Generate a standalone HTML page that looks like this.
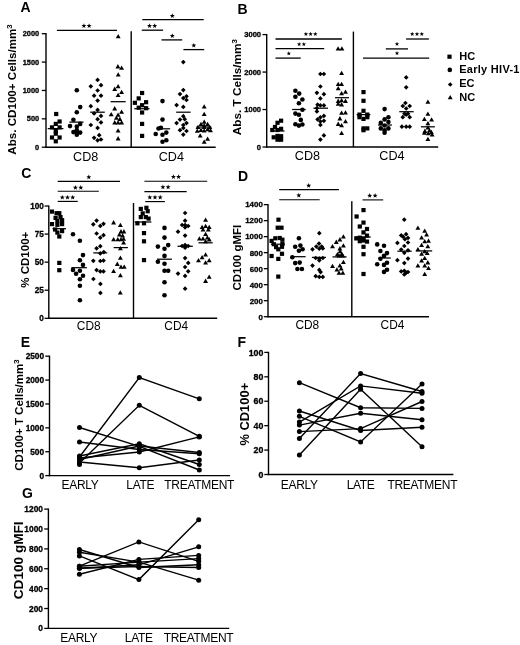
<!DOCTYPE html>
<html><head><meta charset="utf-8"><style>
html,body{margin:0;padding:0;background:#fff;}
body{width:520px;height:645px;overflow:hidden;}
svg{display:block;will-change:transform;filter:blur(0.25px);}
</style></head><body>
<svg width="520" height="645" viewBox="0 0 520 645" font-family='"Liberation Sans", sans-serif'>
<rect width="520" height="645" fill="#fff"/>
<text x="20.6" y="12.4" font-size="14" font-weight="bold" text-anchor="start" >A</text>
<line x1="46.00" y1="33.10" x2="46.00" y2="147.80" stroke="#000" stroke-width="1.4"/>
<line x1="41.80" y1="33.70" x2="46.00" y2="33.70" stroke="#000" stroke-width="1.3"/>
<text x="39.2" y="36.36" font-size="7.4" font-weight="bold" text-anchor="end" letter-spacing="0" stroke="#000" stroke-width="0.3">2000</text>
<line x1="41.80" y1="62.07" x2="46.00" y2="62.07" stroke="#000" stroke-width="1.3"/>
<text x="39.2" y="64.74" font-size="7.4" font-weight="bold" text-anchor="end" letter-spacing="0" stroke="#000" stroke-width="0.3">1500</text>
<line x1="41.80" y1="90.45" x2="46.00" y2="90.45" stroke="#000" stroke-width="1.3"/>
<text x="39.2" y="93.11" font-size="7.4" font-weight="bold" text-anchor="end" letter-spacing="0" stroke="#000" stroke-width="0.3">1000</text>
<line x1="41.80" y1="118.82" x2="46.00" y2="118.82" stroke="#000" stroke-width="1.3"/>
<text x="39.2" y="121.49" font-size="7.4" font-weight="bold" text-anchor="end" letter-spacing="0" stroke="#000" stroke-width="0.3">500</text>
<line x1="41.80" y1="147.20" x2="46.00" y2="147.20" stroke="#000" stroke-width="1.3"/>
<text x="39.2" y="149.86" font-size="7.4" font-weight="bold" text-anchor="end" letter-spacing="0" stroke="#000" stroke-width="0.3">0</text>
<line x1="45.30" y1="147.20" x2="215.70" y2="147.20" stroke="#000" stroke-width="1.4"/>
<line x1="131.20" y1="31.30" x2="131.20" y2="147.20" stroke="#000" stroke-width="1.4"/>
<text transform="translate(16.0,89.5) rotate(-90)" font-size="11.6" font-weight="bold" text-anchor="middle">Abs. CD100+ Cells/mm<tspan font-size="7.8" dy="-4.3">3</tspan></text>
<text x="85.7" y="160.7" font-size="12.6" font-weight="normal" text-anchor="middle" >CD8</text>
<text x="171.3" y="160.7" font-size="12.6" font-weight="normal" text-anchor="middle" >CD4</text>
<rect x="54.10" y="111.90" width="4.2" height="4.2"/>
<rect x="57.50" y="119.40" width="4.2" height="4.2"/>
<rect x="53.70" y="121.80" width="4.2" height="4.2"/>
<rect x="49.90" y="125.30" width="4.2" height="4.2"/>
<rect x="57.50" y="125.30" width="4.2" height="4.2"/>
<rect x="53.70" y="128.90" width="4.2" height="4.2"/>
<rect x="53.70" y="131.60" width="4.2" height="4.2"/>
<rect x="49.90" y="135.40" width="4.2" height="4.2"/>
<rect x="57.50" y="135.40" width="4.2" height="4.2"/>
<rect x="53.70" y="139.20" width="4.2" height="4.2"/>
<line x1="47.70" y1="128.60" x2="63.40" y2="128.60" stroke="#000" stroke-width="1.25"/>
<circle cx="76.80" cy="90.30" r="2.3"/>
<circle cx="80.20" cy="107.10" r="2.3"/>
<circle cx="76.80" cy="112.20" r="2.3"/>
<circle cx="73.40" cy="119.80" r="2.3"/>
<circle cx="70.00" cy="126.10" r="2.3"/>
<circle cx="76.80" cy="126.60" r="2.3"/>
<circle cx="80.20" cy="123.90" r="2.3"/>
<circle cx="73.40" cy="132.10" r="2.3"/>
<circle cx="80.20" cy="132.60" r="2.3"/>
<circle cx="76.80" cy="134.80" r="2.3"/>
<circle cx="76.80" cy="130.00" r="2.3"/>
<circle cx="76.80" cy="132.40" r="2.3"/>
<line x1="69.40" y1="122.10" x2="83.50" y2="122.10" stroke="#000" stroke-width="1.25"/>
<path d="M97.60 77.55L99.95 79.90L97.60 82.25L95.25 79.90Z"/>
<path d="M90.80 83.95L93.15 86.30L90.80 88.65L88.45 86.30Z"/>
<path d="M101.00 82.85L103.35 85.20L101.00 87.55L98.65 85.20Z"/>
<path d="M97.60 88.15L99.95 90.50L97.60 92.85L95.25 90.50Z"/>
<path d="M94.10 93.35L96.45 95.70L94.10 98.05L91.75 95.70Z"/>
<path d="M101.00 93.35L103.35 95.70L101.00 98.05L98.65 95.70Z"/>
<path d="M97.60 98.25L99.95 100.60L97.60 102.95L95.25 100.60Z"/>
<path d="M90.80 103.85L93.15 106.20L90.80 108.55L88.45 106.20Z"/>
<path d="M97.60 107.55L99.95 109.90L97.60 112.25L95.25 109.90Z"/>
<path d="M94.10 111.05L96.45 113.40L94.10 115.75L91.75 113.40Z"/>
<path d="M101.00 113.55L103.35 115.90L101.00 118.25L98.65 115.90Z"/>
<path d="M97.60 116.85L99.95 119.20L97.60 121.55L95.25 119.20Z"/>
<path d="M101.00 120.05L103.35 122.40L101.00 124.75L98.65 122.40Z"/>
<path d="M90.80 122.65L93.15 125.00L90.80 127.35L88.45 125.00Z"/>
<path d="M97.60 125.55L99.95 127.90L97.60 130.25L95.25 127.90Z"/>
<path d="M99.20 132.85L101.55 135.20L99.20 137.55L96.85 135.20Z"/>
<path d="M94.10 135.45L96.45 137.80L94.10 140.15L91.75 137.80Z"/>
<path d="M97.60 137.95L99.95 140.30L97.60 142.65L95.25 140.30Z"/>
<path d="M101.00 137.15L103.35 139.50L101.00 141.85L98.65 139.50Z"/>
<line x1="90.20" y1="112.20" x2="104.80" y2="112.20" stroke="#000" stroke-width="1.25"/>
<path d="M118.20 34.02L120.65 38.32L115.75 38.32Z"/>
<path d="M117.90 64.12L120.35 68.42L115.45 68.42Z"/>
<path d="M121.60 65.42L124.05 69.72L119.15 69.72Z"/>
<path d="M118.20 72.32L120.65 76.62L115.75 76.62Z"/>
<path d="M118.10 84.02L120.55 88.32L115.65 88.32Z"/>
<path d="M114.70 86.62L117.15 90.92L112.25 90.92Z"/>
<path d="M121.60 89.82L124.05 94.12L119.15 94.12Z"/>
<path d="M118.10 92.72L120.55 97.02L115.65 97.02Z"/>
<path d="M114.70 106.12L117.15 110.42L112.25 110.42Z"/>
<path d="M111.20 111.92L113.65 116.22L108.75 116.22Z"/>
<path d="M121.60 109.42L124.05 113.72L119.15 113.72Z"/>
<path d="M118.10 112.52L120.55 116.82L115.65 116.82Z"/>
<path d="M116.40 115.42L118.85 119.72L113.95 119.72Z"/>
<path d="M119.90 116.62L122.35 120.92L117.45 120.92Z"/>
<path d="M114.70 120.12L117.15 124.42L112.25 124.42Z"/>
<path d="M118.10 120.12L120.55 124.42L115.65 124.42Z"/>
<path d="M121.60 120.12L124.05 124.42L119.15 124.42Z"/>
<path d="M118.10 128.22L120.55 132.52L115.65 132.52Z"/>
<path d="M118.10 136.12L120.55 140.42L115.65 140.42Z"/>
<line x1="110.60" y1="101.70" x2="125.70" y2="101.70" stroke="#000" stroke-width="1.25"/>
<rect x="140.00" y="90.90" width="4.2" height="4.2"/>
<rect x="136.60" y="96.30" width="4.2" height="4.2"/>
<rect x="132.80" y="100.70" width="4.2" height="4.2"/>
<rect x="144.00" y="100.10" width="4.2" height="4.2"/>
<rect x="140.00" y="103.10" width="4.2" height="4.2"/>
<rect x="136.60" y="105.60" width="4.2" height="4.2"/>
<rect x="144.00" y="106.10" width="4.2" height="4.2"/>
<rect x="140.00" y="110.40" width="4.2" height="4.2"/>
<rect x="140.00" y="121.80" width="4.2" height="4.2"/>
<rect x="140.00" y="133.80" width="4.2" height="4.2"/>
<line x1="134.30" y1="108.70" x2="149.50" y2="108.70" stroke="#000" stroke-width="1.25"/>
<circle cx="162.50" cy="101.10" r="2.3"/>
<circle cx="162.50" cy="119.60" r="2.3"/>
<circle cx="160.90" cy="127.70" r="2.3"/>
<circle cx="155.70" cy="134.00" r="2.3"/>
<circle cx="162.50" cy="134.80" r="2.3"/>
<circle cx="166.30" cy="132.60" r="2.3"/>
<circle cx="162.50" cy="141.80" r="2.3"/>
<circle cx="166.30" cy="140.20" r="2.3"/>
<circle cx="158.50" cy="128.50" r="2.3"/>
<line x1="157.10" y1="128.80" x2="170.10" y2="128.80" stroke="#000" stroke-width="1.25"/>
<path d="M183.30 59.75L185.65 62.10L183.30 64.45L180.95 62.10Z"/>
<path d="M183.30 87.75L185.65 90.10L183.30 92.45L180.95 90.10Z"/>
<path d="M180.00 91.75L182.35 94.10L180.00 96.45L177.65 94.10Z"/>
<path d="M186.50 93.95L188.85 96.30L186.50 98.65L184.15 96.30Z"/>
<path d="M183.30 95.75L185.65 98.10L183.30 100.45L180.95 98.10Z"/>
<path d="M186.50 97.65L188.85 100.00L186.50 102.35L184.15 100.00Z"/>
<path d="M176.60 102.75L178.95 105.10L176.60 107.45L174.25 105.10Z"/>
<path d="M183.30 104.55L185.65 106.90L183.30 109.25L180.95 106.90Z"/>
<path d="M183.30 113.85L185.65 116.20L183.30 118.55L180.95 116.20Z"/>
<path d="M180.00 117.25L182.35 119.60L180.00 121.95L177.65 119.60Z"/>
<path d="M184.70 116.85L187.05 119.20L184.70 121.55L182.35 119.20Z"/>
<path d="M176.60 120.75L178.95 123.10L176.60 125.45L174.25 123.10Z"/>
<path d="M186.50 120.75L188.85 123.10L186.50 125.45L184.15 123.10Z"/>
<path d="M183.30 122.65L185.65 125.00L183.30 127.35L180.95 125.00Z"/>
<path d="M180.00 127.85L182.35 130.20L180.00 132.55L177.65 130.20Z"/>
<path d="M186.50 128.65L188.85 131.00L186.50 133.35L184.15 131.00Z"/>
<path d="M183.30 125.65L185.65 128.00L183.30 130.35L180.95 128.00Z"/>
<path d="M183.30 132.25L185.65 134.60L183.30 136.95L180.95 134.60Z"/>
<line x1="176.20" y1="112.20" x2="190.60" y2="112.20" stroke="#000" stroke-width="1.25"/>
<path d="M204.20 104.32L206.65 108.62L201.75 108.62Z"/>
<path d="M204.20 111.72L206.65 116.02L201.75 116.02Z"/>
<path d="M204.20 119.52L206.65 123.82L201.75 123.82Z"/>
<path d="M201.00 121.72L203.45 126.02L198.55 126.02Z"/>
<path d="M207.60 121.72L210.05 126.02L205.15 126.02Z"/>
<path d="M198.00 124.72L200.45 129.02L195.55 129.02Z"/>
<path d="M204.20 124.72L206.65 129.02L201.75 129.02Z"/>
<path d="M209.80 124.72L212.25 129.02L207.35 129.02Z"/>
<path d="M201.00 127.62L203.45 131.92L198.55 131.92Z"/>
<path d="M207.60 126.92L210.05 131.22L205.15 131.22Z"/>
<path d="M197.30 128.42L199.75 132.72L194.85 132.72Z"/>
<path d="M204.20 122.92L206.65 127.22L201.75 127.22Z"/>
<path d="M204.20 128.22L206.65 132.52L201.75 132.52Z"/>
<path d="M210.50 127.92L212.95 132.22L208.05 132.22Z"/>
<path d="M200.20 133.22L202.65 137.52L197.75 137.52Z"/>
<path d="M207.60 136.52L210.05 140.82L205.15 140.82Z"/>
<path d="M204.20 139.42L206.65 143.72L201.75 143.72Z"/>
<line x1="196.50" y1="127.00" x2="211.30" y2="127.00" stroke="#000" stroke-width="1.25"/>
<line x1="56.90" y1="30.40" x2="117.00" y2="30.40" stroke="#000" stroke-width="1.3"/>
<polygon points="83.90,23.30 84.54,25.02 86.37,25.10 84.94,26.24 85.43,28.00 83.90,26.99 82.37,28.00 82.86,26.24 81.43,25.10 83.26,25.02"/>
<polygon points="89.10,23.30 89.74,25.02 91.57,25.10 90.14,26.24 90.63,28.00 89.10,26.99 87.57,28.00 88.06,26.24 86.63,25.10 88.46,25.02"/>
<line x1="142.30" y1="19.60" x2="203.70" y2="19.60" stroke="#000" stroke-width="1.3"/>
<polygon points="172.30,13.20 172.94,14.92 174.77,15.00 173.34,16.14 173.83,17.90 172.30,16.89 170.77,17.90 171.26,16.14 169.83,15.00 171.66,14.92"/>
<line x1="141.80" y1="30.20" x2="163.10" y2="30.20" stroke="#000" stroke-width="1.3"/>
<polygon points="149.50,23.20 150.14,24.92 151.97,25.00 150.54,26.14 151.03,27.90 149.50,26.89 147.97,27.90 148.46,26.14 147.03,25.00 148.86,24.92"/>
<polygon points="154.70,23.20 155.34,24.92 157.17,25.00 155.74,26.14 156.23,27.90 154.70,26.89 153.17,27.90 153.66,26.14 152.23,25.00 154.06,24.92"/>
<line x1="161.50" y1="39.90" x2="182.20" y2="39.90" stroke="#000" stroke-width="1.3"/>
<polygon points="172.30,33.20 172.94,34.92 174.77,35.00 173.34,36.14 173.83,37.90 172.30,36.89 170.77,37.90 171.26,36.14 169.83,35.00 171.66,34.92"/>
<line x1="183.40" y1="49.60" x2="204.20" y2="49.60" stroke="#000" stroke-width="1.3"/>
<polygon points="193.80,42.90 194.44,44.62 196.27,44.70 194.84,45.84 195.33,47.60 193.80,46.59 192.27,47.60 192.76,45.84 191.33,44.70 193.16,44.62"/>
<text x="237.6" y="14.4" font-size="14" font-weight="bold" text-anchor="start" >B</text>
<line x1="266.70" y1="33.99" x2="266.70" y2="147.60" stroke="#000" stroke-width="1.4"/>
<line x1="262.50" y1="34.59" x2="266.70" y2="34.59" stroke="#000" stroke-width="1.3"/>
<text x="261.1" y="37.33" font-size="7.6" font-weight="bold" text-anchor="end" letter-spacing="0" stroke="#000" stroke-width="0.3">3000</text>
<line x1="262.50" y1="72.06" x2="266.70" y2="72.06" stroke="#000" stroke-width="1.3"/>
<text x="261.1" y="74.80" font-size="7.6" font-weight="bold" text-anchor="end" letter-spacing="0" stroke="#000" stroke-width="0.3">2000</text>
<line x1="262.50" y1="109.53" x2="266.70" y2="109.53" stroke="#000" stroke-width="1.3"/>
<text x="261.1" y="112.27" font-size="7.6" font-weight="bold" text-anchor="end" letter-spacing="0" stroke="#000" stroke-width="0.3">1000</text>
<line x1="262.50" y1="147.00" x2="266.70" y2="147.00" stroke="#000" stroke-width="1.3"/>
<text x="261.1" y="149.74" font-size="7.6" font-weight="bold" text-anchor="end" letter-spacing="0" stroke="#000" stroke-width="0.3">0</text>
<line x1="266.00" y1="147.00" x2="438.20" y2="147.00" stroke="#000" stroke-width="1.4"/>
<line x1="353.40" y1="31.60" x2="353.40" y2="147.00" stroke="#000" stroke-width="1.4"/>
<text transform="translate(241.0,87.2) rotate(-90)" font-size="11.8" font-weight="bold" text-anchor="middle">Abs. T Cells/mm<tspan font-size="7.9" dy="-4.3">3</tspan></text>
<text x="307.4" y="160.4" font-size="12.6" font-weight="normal" text-anchor="middle" >CD8</text>
<text x="391.9" y="160.4" font-size="12.6" font-weight="normal" text-anchor="middle" >CD4</text>
<rect x="279.00" y="118.60" width="4.2" height="4.2"/>
<rect x="275.40" y="120.70" width="4.2" height="4.2"/>
<rect x="272.90" y="124.90" width="4.2" height="4.2"/>
<rect x="279.00" y="126.70" width="4.2" height="4.2"/>
<rect x="270.20" y="127.90" width="4.2" height="4.2"/>
<rect x="275.40" y="127.90" width="4.2" height="4.2"/>
<rect x="271.60" y="135.20" width="4.2" height="4.2"/>
<rect x="275.40" y="133.80" width="4.2" height="4.2"/>
<rect x="279.00" y="134.10" width="4.2" height="4.2"/>
<rect x="275.40" y="137.60" width="4.2" height="4.2"/>
<rect x="279.00" y="137.60" width="4.2" height="4.2"/>
<line x1="271.00" y1="131.00" x2="284.50" y2="131.00" stroke="#000" stroke-width="1.25"/>
<circle cx="295.40" cy="90.80" r="2.3"/>
<circle cx="299.20" cy="93.60" r="2.3"/>
<circle cx="295.40" cy="96.80" r="2.3"/>
<circle cx="302.40" cy="99.50" r="2.3"/>
<circle cx="298.90" cy="103.30" r="2.3"/>
<circle cx="302.40" cy="109.80" r="2.3"/>
<circle cx="295.40" cy="113.60" r="2.3"/>
<circle cx="298.90" cy="114.70" r="2.3"/>
<circle cx="300.80" cy="119.90" r="2.3"/>
<circle cx="295.40" cy="124.30" r="2.3"/>
<circle cx="298.90" cy="125.60" r="2.3"/>
<circle cx="302.40" cy="124.50" r="2.3"/>
<line x1="292.10" y1="109.50" x2="305.70" y2="109.50" stroke="#000" stroke-width="1.25"/>
<path d="M320.40 71.65L322.75 74.00L320.40 76.35L318.05 74.00Z"/>
<path d="M323.90 71.65L326.25 74.00L323.90 76.35L321.55 74.00Z"/>
<path d="M320.40 84.15L322.75 86.50L320.40 88.85L318.05 86.50Z"/>
<path d="M316.90 90.45L319.25 92.80L316.90 95.15L314.55 92.80Z"/>
<path d="M323.90 91.85L326.25 94.20L323.90 96.55L321.55 94.20Z"/>
<path d="M320.40 96.05L322.75 98.40L320.40 100.75L318.05 98.40Z"/>
<path d="M317.60 102.35L319.95 104.70L317.60 107.05L315.25 104.70Z"/>
<path d="M320.40 103.05L322.75 105.40L320.40 107.75L318.05 105.40Z"/>
<path d="M323.90 103.05L326.25 105.40L323.90 107.75L321.55 105.40Z"/>
<path d="M316.90 105.85L319.25 108.20L316.90 110.55L314.55 108.20Z"/>
<path d="M316.90 109.05L319.25 111.40L316.90 113.75L314.55 111.40Z"/>
<path d="M323.90 113.55L326.25 115.90L323.90 118.25L321.55 115.90Z"/>
<path d="M320.40 114.95L322.75 117.30L320.40 119.65L318.05 117.30Z"/>
<path d="M317.60 117.05L319.95 119.40L317.60 121.75L315.25 119.40Z"/>
<path d="M320.40 119.15L322.75 121.50L320.40 123.85L318.05 121.50Z"/>
<path d="M323.90 118.45L326.25 120.80L323.90 123.15L321.55 120.80Z"/>
<path d="M320.40 122.55L322.75 124.90L320.40 127.25L318.05 124.90Z"/>
<path d="M323.90 133.05L326.25 135.40L323.90 137.75L321.55 135.40Z"/>
<path d="M320.40 137.25L322.75 139.60L320.40 141.95L318.05 139.60Z"/>
<line x1="313.40" y1="108.20" x2="328.00" y2="108.20" stroke="#000" stroke-width="1.25"/>
<path d="M338.10 46.22L340.55 50.52L335.65 50.52Z"/>
<path d="M341.90 46.22L344.35 50.52L339.45 50.52Z"/>
<path d="M341.60 70.72L344.05 75.02L339.15 75.02Z"/>
<path d="M338.20 81.82L340.65 86.12L335.75 86.12Z"/>
<path d="M341.60 81.82L344.05 86.12L339.15 86.12Z"/>
<path d="M338.20 86.02L340.65 90.32L335.75 90.32Z"/>
<path d="M341.60 90.92L344.05 95.22L339.15 95.22Z"/>
<path d="M345.50 89.52L347.95 93.82L343.05 93.82Z"/>
<path d="M338.20 98.62L340.65 102.92L335.75 102.92Z"/>
<path d="M341.60 97.92L344.05 102.22L339.15 102.22Z"/>
<path d="M345.50 98.62L347.95 102.92L343.05 102.92Z"/>
<path d="M338.20 101.42L340.65 105.72L335.75 105.72Z"/>
<path d="M341.60 102.12L344.05 106.42L339.15 106.42Z"/>
<path d="M341.60 110.52L344.05 114.82L339.15 114.82Z"/>
<path d="M345.50 110.22L347.95 114.52L343.05 114.52Z"/>
<path d="M339.90 116.12L342.35 120.42L337.45 120.42Z"/>
<path d="M345.50 118.92L347.95 123.22L343.05 123.22Z"/>
<path d="M338.20 121.62L340.65 125.92L335.75 125.92Z"/>
<path d="M341.60 123.02L344.05 127.32L339.15 127.32Z"/>
<path d="M341.60 130.72L344.05 135.02L339.15 135.02Z"/>
<line x1="335.00" y1="97.70" x2="349.00" y2="97.70" stroke="#000" stroke-width="1.25"/>
<rect x="361.40" y="90.00" width="4.2" height="4.2"/>
<rect x="361.40" y="98.70" width="4.2" height="4.2"/>
<rect x="361.40" y="108.70" width="4.2" height="4.2"/>
<rect x="357.40" y="112.50" width="4.2" height="4.2"/>
<rect x="365.20" y="112.50" width="4.2" height="4.2"/>
<rect x="357.40" y="115.10" width="4.2" height="4.2"/>
<rect x="361.40" y="116.80" width="4.2" height="4.2"/>
<rect x="365.20" y="115.10" width="4.2" height="4.2"/>
<rect x="361.40" y="126.30" width="4.2" height="4.2"/>
<rect x="365.20" y="126.30" width="4.2" height="4.2"/>
<rect x="361.40" y="128.10" width="4.2" height="4.2"/>
<line x1="356.60" y1="114.60" x2="370.40" y2="114.60" stroke="#000" stroke-width="1.25"/>
<circle cx="384.60" cy="109.10" r="2.3"/>
<circle cx="388.40" cy="117.20" r="2.3"/>
<circle cx="384.60" cy="119.40" r="2.3"/>
<circle cx="380.80" cy="122.90" r="2.3"/>
<circle cx="380.80" cy="128.40" r="2.3"/>
<circle cx="384.60" cy="130.20" r="2.3"/>
<circle cx="388.40" cy="128.40" r="2.3"/>
<circle cx="384.60" cy="132.80" r="2.3"/>
<circle cx="388.40" cy="122.00" r="2.3"/>
<circle cx="384.60" cy="125.50" r="2.3"/>
<line x1="378.00" y1="125.00" x2="391.90" y2="125.00" stroke="#000" stroke-width="1.25"/>
<path d="M406.20 75.05L408.55 77.40L406.20 79.75L403.85 77.40Z"/>
<path d="M406.20 84.95L408.55 87.30L406.20 89.65L403.85 87.30Z"/>
<path d="M405.40 100.65L407.75 103.00L405.40 105.35L403.05 103.00Z"/>
<path d="M402.80 103.65L405.15 106.00L402.80 108.35L400.45 106.00Z"/>
<path d="M409.70 103.65L412.05 106.00L409.70 108.35L407.35 106.00Z"/>
<path d="M406.20 106.15L408.55 108.50L406.20 110.85L403.85 108.50Z"/>
<path d="M404.50 111.35L406.85 113.70L404.50 116.05L402.15 113.70Z"/>
<path d="M408.00 111.35L410.35 113.70L408.00 116.05L405.65 113.70Z"/>
<path d="M402.80 114.85L405.15 117.20L402.80 119.55L400.45 117.20Z"/>
<path d="M409.70 114.85L412.05 117.20L409.70 119.55L407.35 117.20Z"/>
<path d="M406.20 112.25L408.55 114.60L406.20 116.95L403.85 114.60Z"/>
<path d="M401.90 124.35L404.25 126.70L401.90 129.05L399.55 126.70Z"/>
<path d="M406.20 124.35L408.55 126.70L406.20 129.05L403.85 126.70Z"/>
<path d="M409.70 124.35L412.05 126.70L409.70 129.05L407.35 126.70Z"/>
<line x1="399.30" y1="111.70" x2="413.70" y2="111.70" stroke="#000" stroke-width="1.25"/>
<path d="M427.90 99.42L430.35 103.72L425.45 103.72Z"/>
<path d="M427.90 111.42L430.35 115.72L425.45 115.72Z"/>
<path d="M424.40 116.82L426.85 121.12L421.95 121.12Z"/>
<path d="M431.60 117.22L434.05 121.52L429.15 121.52Z"/>
<path d="M427.90 121.02L430.35 125.32L425.45 125.32Z"/>
<path d="M427.90 125.22L430.35 129.52L425.45 129.52Z"/>
<path d="M424.90 128.62L427.35 132.92L422.45 132.92Z"/>
<path d="M429.50 127.92L431.95 132.22L427.05 132.22Z"/>
<path d="M424.40 130.42L426.85 134.72L421.95 134.72Z"/>
<path d="M428.30 130.92L430.75 135.22L425.85 135.22Z"/>
<path d="M431.40 129.72L433.85 134.02L428.95 134.02Z"/>
<path d="M432.10 132.22L434.55 136.52L429.65 136.52Z"/>
<path d="M427.90 136.82L430.35 141.12L425.45 141.12Z"/>
<line x1="420.90" y1="126.80" x2="434.90" y2="126.80" stroke="#000" stroke-width="1.25"/>
<line x1="275.50" y1="39.00" x2="341.90" y2="39.00" stroke="#000" stroke-width="1.3"/>
<polygon points="305.90,31.80 306.47,33.32 308.09,33.39 306.82,34.40 307.25,35.96 305.90,35.07 304.55,35.96 304.98,34.40 303.71,33.39 305.33,33.32"/>
<polygon points="310.60,31.80 311.17,33.32 312.79,33.39 311.52,34.40 311.95,35.96 310.60,35.07 309.25,35.96 309.68,34.40 308.41,33.39 310.03,33.32"/>
<polygon points="315.30,31.80 315.87,33.32 317.49,33.39 316.22,34.40 316.65,35.96 315.30,35.07 313.95,35.96 314.38,34.40 313.11,33.39 314.73,33.32"/>
<line x1="275.50" y1="48.60" x2="324.20" y2="48.60" stroke="#000" stroke-width="1.3"/>
<polygon points="299.15,41.90 299.72,43.42 301.34,43.49 300.07,44.50 300.50,46.06 299.15,45.17 297.80,46.06 298.23,44.50 296.96,43.49 298.58,43.42"/>
<polygon points="303.85,41.90 304.42,43.42 306.04,43.49 304.77,44.50 305.20,46.06 303.85,45.17 302.50,46.06 302.93,44.50 301.66,43.49 303.28,43.42"/>
<line x1="275.50" y1="58.10" x2="300.70" y2="58.10" stroke="#000" stroke-width="1.3"/>
<polygon points="288.80,51.20 289.37,52.72 290.99,52.79 289.72,53.80 290.15,55.36 288.80,54.47 287.45,55.36 287.88,53.80 286.61,52.79 288.23,52.72"/>
<line x1="406.10" y1="39.00" x2="428.90" y2="39.00" stroke="#000" stroke-width="1.3"/>
<polygon points="412.20,31.80 412.77,33.32 414.39,33.39 413.12,34.40 413.55,35.96 412.20,35.07 410.85,35.96 411.28,34.40 410.01,33.39 411.63,33.32"/>
<polygon points="417.00,31.80 417.57,33.32 419.19,33.39 417.92,34.40 418.35,35.96 417.00,35.07 415.65,35.96 416.08,34.40 414.81,33.39 416.43,33.32"/>
<polygon points="421.80,31.80 422.37,33.32 423.99,33.39 422.72,34.40 423.15,35.96 421.80,35.07 420.45,35.96 420.88,34.40 419.61,33.39 421.23,33.32"/>
<line x1="385.80" y1="48.90" x2="408.00" y2="48.90" stroke="#000" stroke-width="1.3"/>
<polygon points="397.00,41.70 397.57,43.22 399.19,43.29 397.92,44.30 398.35,45.86 397.00,44.97 395.65,45.86 396.08,44.30 394.81,43.29 396.43,43.22"/>
<line x1="363.00" y1="58.20" x2="429.20" y2="58.20" stroke="#000" stroke-width="1.3"/>
<polygon points="397.00,50.90 397.57,52.42 399.19,52.49 397.92,53.50 398.35,55.06 397.00,54.17 395.65,55.06 396.08,53.50 394.81,52.49 396.43,52.42"/>
<rect x="447.40" y="54.60" width="4.2" height="4.2"/>
<text x="459.2" y="59.9" font-size="11" font-weight="bold" text-anchor="start" >HC</text>
<circle cx="449.80" cy="69.90" r="2.3"/>
<text x="459.2" y="73.2" font-size="11" font-weight="bold" text-anchor="start" letter-spacing="0.28">Early HIV-1</text>
<path d="M450.20 82.15L452.55 84.50L450.20 86.85L447.85 84.50Z"/>
<text x="459.2" y="87.2" font-size="11" font-weight="bold" text-anchor="start" >EC</text>
<path d="M450.20 94.92L452.65 99.22L447.75 99.22Z"/>
<text x="459.2" y="100.9" font-size="11" font-weight="bold" text-anchor="start" >NC</text>
<text x="21.3" y="177.7" font-size="14" font-weight="bold" text-anchor="start" >C</text>
<line x1="48.80" y1="205.42" x2="48.80" y2="318.90" stroke="#000" stroke-width="1.4"/>
<line x1="44.60" y1="206.02" x2="48.80" y2="206.02" stroke="#000" stroke-width="1.3"/>
<text x="43.9" y="208.97" font-size="8.2" font-weight="bold" text-anchor="end" letter-spacing="0" stroke="#000" stroke-width="0.3">100</text>
<line x1="44.60" y1="234.09" x2="48.80" y2="234.09" stroke="#000" stroke-width="1.3"/>
<text x="43.9" y="237.04" font-size="8.2" font-weight="bold" text-anchor="end" letter-spacing="0" stroke="#000" stroke-width="0.3">75</text>
<line x1="44.60" y1="262.16" x2="48.80" y2="262.16" stroke="#000" stroke-width="1.3"/>
<text x="43.9" y="265.11" font-size="8.2" font-weight="bold" text-anchor="end" letter-spacing="0" stroke="#000" stroke-width="0.3">50</text>
<line x1="44.60" y1="290.23" x2="48.80" y2="290.23" stroke="#000" stroke-width="1.3"/>
<text x="43.9" y="293.18" font-size="8.2" font-weight="bold" text-anchor="end" letter-spacing="0" stroke="#000" stroke-width="0.3">25</text>
<line x1="44.60" y1="318.30" x2="48.80" y2="318.30" stroke="#000" stroke-width="1.3"/>
<text x="43.9" y="321.25" font-size="8.2" font-weight="bold" text-anchor="end" letter-spacing="0" stroke="#000" stroke-width="0.3">0</text>
<line x1="48.10" y1="318.30" x2="217.20" y2="318.30" stroke="#000" stroke-width="1.4"/>
<line x1="133.50" y1="203.00" x2="133.50" y2="318.30" stroke="#000" stroke-width="1.4"/>
<text transform="translate(28.8,259.7) rotate(-90)" font-size="11.5" font-weight="bold" text-anchor="middle">% CD100+</text>
<text x="88.7" y="329.5" font-size="11.9" font-weight="normal" text-anchor="middle" >CD8</text>
<text x="176.2" y="329.5" font-size="11.9" font-weight="normal" text-anchor="middle" >CD4</text>
<rect x="49.90" y="209.50" width="4.2" height="4.2"/>
<rect x="54.50" y="211.10" width="4.2" height="4.2"/>
<rect x="57.20" y="211.10" width="4.2" height="4.2"/>
<rect x="53.50" y="215.80" width="4.2" height="4.2"/>
<rect x="58.40" y="215.00" width="4.2" height="4.2"/>
<rect x="55.30" y="218.90" width="4.2" height="4.2"/>
<rect x="60.00" y="218.10" width="4.2" height="4.2"/>
<rect x="49.90" y="222.00" width="4.2" height="4.2"/>
<rect x="55.30" y="222.70" width="4.2" height="4.2"/>
<rect x="60.00" y="222.00" width="4.2" height="4.2"/>
<rect x="53.00" y="227.40" width="4.2" height="4.2"/>
<rect x="60.00" y="229.00" width="4.2" height="4.2"/>
<rect x="55.30" y="230.50" width="4.2" height="4.2"/>
<rect x="57.20" y="234.40" width="4.2" height="4.2"/>
<rect x="57.20" y="260.80" width="4.2" height="4.2"/>
<rect x="57.20" y="268.10" width="4.2" height="4.2"/>
<line x1="52.50" y1="228.70" x2="66.00" y2="228.70" stroke="#000" stroke-width="1.25"/>
<circle cx="73.00" cy="234.20" r="2.3"/>
<circle cx="79.90" cy="240.70" r="2.3"/>
<circle cx="83.00" cy="255.10" r="2.3"/>
<circle cx="79.90" cy="260.20" r="2.3"/>
<circle cx="83.00" cy="264.90" r="2.3"/>
<circle cx="73.00" cy="269.90" r="2.3"/>
<circle cx="79.90" cy="270.70" r="2.3"/>
<circle cx="76.10" cy="273.80" r="2.3"/>
<circle cx="83.00" cy="275.80" r="2.3"/>
<circle cx="79.90" cy="279.20" r="2.3"/>
<circle cx="79.90" cy="285.70" r="2.3"/>
<circle cx="79.90" cy="300.20" r="2.3"/>
<line x1="71.40" y1="267.70" x2="86.90" y2="267.70" stroke="#000" stroke-width="1.25"/>
<path d="M96.60 218.25L98.95 220.60L96.60 222.95L94.25 220.60Z"/>
<path d="M93.30 221.95L95.65 224.30L93.30 226.65L90.95 224.30Z"/>
<path d="M100.30 223.55L102.65 225.90L100.30 228.25L97.95 225.90Z"/>
<path d="M103.50 221.45L105.85 223.80L103.50 226.15L101.15 223.80Z"/>
<path d="M96.60 231.15L98.95 233.50L96.60 235.85L94.25 233.50Z"/>
<path d="M100.30 235.35L102.65 237.70L100.30 240.05L97.95 237.70Z"/>
<path d="M103.50 232.85L105.85 235.20L103.50 237.55L101.15 235.20Z"/>
<path d="M100.30 243.85L102.65 246.20L100.30 248.55L97.95 246.20Z"/>
<path d="M96.60 245.95L98.95 248.30L96.60 250.65L94.25 248.30Z"/>
<path d="M100.30 251.05L102.65 253.40L100.30 255.75L97.95 253.40Z"/>
<path d="M103.80 249.75L106.15 252.10L103.80 254.45L101.45 252.10Z"/>
<path d="M93.30 258.45L95.65 260.80L93.30 263.15L90.95 260.80Z"/>
<path d="M100.30 258.65L102.65 261.00L100.30 263.35L97.95 261.00Z"/>
<path d="M103.50 258.25L105.85 260.60L103.50 262.95L101.15 260.60Z"/>
<path d="M96.60 267.75L98.95 270.10L96.60 272.45L94.25 270.10Z"/>
<path d="M100.30 269.05L102.65 271.40L100.30 273.75L97.95 271.40Z"/>
<path d="M103.50 269.05L105.85 271.40L103.50 273.75L101.15 271.40Z"/>
<path d="M93.40 276.65L95.75 279.00L93.40 281.35L91.05 279.00Z"/>
<path d="M100.40 281.55L102.75 283.90L100.40 286.25L98.05 283.90Z"/>
<path d="M100.40 290.55L102.75 292.90L100.40 295.25L98.05 292.90Z"/>
<line x1="93.30" y1="252.90" x2="107.20" y2="252.90" stroke="#000" stroke-width="1.25"/>
<path d="M113.60 220.12L116.05 224.42L111.15 224.42Z"/>
<path d="M120.40 222.72L122.85 227.02L117.95 227.02Z"/>
<path d="M121.00 229.12L123.45 233.42L118.55 233.42Z"/>
<path d="M123.90 229.12L126.35 233.42L121.45 233.42Z"/>
<path d="M119.40 232.32L121.85 236.62L116.95 236.62Z"/>
<path d="M122.60 233.32L125.05 237.62L120.15 237.62Z"/>
<path d="M113.60 237.02L116.05 241.32L111.15 241.32Z"/>
<path d="M117.80 237.02L120.25 241.32L115.35 241.32Z"/>
<path d="M121.00 237.02L123.45 241.32L118.55 241.32Z"/>
<path d="M123.60 236.52L126.05 240.82L121.15 240.82Z"/>
<path d="M123.60 240.22L126.05 244.52L121.15 244.52Z"/>
<path d="M120.40 246.02L122.85 250.32L117.95 250.32Z"/>
<path d="M120.40 255.52L122.85 259.82L117.95 259.82Z"/>
<path d="M117.30 261.62L119.75 265.92L114.85 265.92Z"/>
<path d="M121.00 264.52L123.45 268.82L118.55 268.82Z"/>
<path d="M124.20 264.52L126.65 268.82L121.75 268.82Z"/>
<path d="M113.60 268.82L116.05 273.12L111.15 273.12Z"/>
<path d="M120.40 273.02L122.85 277.32L117.95 277.32Z"/>
<path d="M120.30 290.32L122.75 294.62L117.85 294.62Z"/>
<line x1="113.60" y1="247.60" x2="127.90" y2="247.60" stroke="#000" stroke-width="1.25"/>
<rect x="138.70" y="206.80" width="4.2" height="4.2"/>
<rect x="144.30" y="205.70" width="4.2" height="4.2"/>
<rect x="145.60" y="209.10" width="4.2" height="4.2"/>
<rect x="140.60" y="211.30" width="4.2" height="4.2"/>
<rect x="138.70" y="215.00" width="4.2" height="4.2"/>
<rect x="143.70" y="215.00" width="4.2" height="4.2"/>
<rect x="146.50" y="216.50" width="4.2" height="4.2"/>
<rect x="135.30" y="221.20" width="4.2" height="4.2"/>
<rect x="141.90" y="221.20" width="4.2" height="4.2"/>
<rect x="141.90" y="231.00" width="4.2" height="4.2"/>
<rect x="141.90" y="239.20" width="4.2" height="4.2"/>
<rect x="141.90" y="258.00" width="4.2" height="4.2"/>
<line x1="134.70" y1="222.00" x2="151.40" y2="222.00" stroke="#000" stroke-width="1.25"/>
<circle cx="164.50" cy="227.90" r="2.3"/>
<circle cx="164.50" cy="237.60" r="2.3"/>
<circle cx="157.90" cy="246.60" r="2.3"/>
<circle cx="168.20" cy="245.10" r="2.3"/>
<circle cx="164.50" cy="248.80" r="2.3"/>
<circle cx="164.50" cy="255.90" r="2.3"/>
<circle cx="157.90" cy="261.80" r="2.3"/>
<circle cx="164.50" cy="263.70" r="2.3"/>
<circle cx="164.50" cy="270.80" r="2.3"/>
<circle cx="168.20" cy="270.80" r="2.3"/>
<circle cx="164.50" cy="282.30" r="2.3"/>
<circle cx="164.50" cy="295.30" r="2.3"/>
<line x1="157.00" y1="259.20" x2="171.90" y2="259.20" stroke="#000" stroke-width="1.25"/>
<path d="M185.10 210.65L187.45 213.00L185.10 215.35L182.75 213.00Z"/>
<path d="M185.10 218.35L187.45 220.70L185.10 223.05L182.75 220.70Z"/>
<path d="M182.10 222.65L184.45 225.00L182.10 227.35L179.75 225.00Z"/>
<path d="M185.10 222.65L187.45 225.00L185.10 227.35L182.75 225.00Z"/>
<path d="M188.20 223.65L190.55 226.00L188.20 228.35L185.85 226.00Z"/>
<path d="M185.10 224.95L187.45 227.30L185.10 229.65L182.75 227.30Z"/>
<path d="M178.00 229.35L180.35 231.70L178.00 234.05L175.65 231.70Z"/>
<path d="M185.10 233.25L187.45 235.60L185.10 237.95L182.75 235.60Z"/>
<path d="M182.10 243.65L184.45 246.00L182.10 248.35L179.75 246.00Z"/>
<path d="M185.10 242.75L187.45 245.10L185.10 247.45L182.75 245.10Z"/>
<path d="M188.20 243.65L190.55 246.00L188.20 248.35L185.85 246.00Z"/>
<path d="M185.10 245.35L187.45 247.70L185.10 250.05L182.75 247.70Z"/>
<path d="M185.10 255.75L187.45 258.10L185.10 260.45L182.75 258.10Z"/>
<path d="M188.20 260.55L190.55 262.90L188.20 265.25L185.85 262.90Z"/>
<path d="M185.10 264.65L187.45 267.00L185.10 269.35L182.75 267.00Z"/>
<path d="M188.20 268.95L190.55 271.30L188.20 273.65L185.85 271.30Z"/>
<path d="M178.00 271.25L180.35 273.60L178.00 275.95L175.65 273.60Z"/>
<path d="M185.10 273.55L187.45 275.90L185.10 278.25L182.75 275.90Z"/>
<path d="M185.10 286.35L187.45 288.70L185.10 291.05L182.75 288.70Z"/>
<line x1="177.50" y1="246.30" x2="192.80" y2="246.30" stroke="#000" stroke-width="1.25"/>
<path d="M205.60 217.52L208.05 221.82L203.15 221.82Z"/>
<path d="M202.10 224.72L204.55 229.02L199.65 229.02Z"/>
<path d="M205.60 223.82L208.05 228.12L203.15 228.12Z"/>
<path d="M209.20 224.72L211.65 229.02L206.75 229.02Z"/>
<path d="M203.00 227.32L205.45 231.62L200.55 231.62Z"/>
<path d="M208.30 227.32L210.75 231.62L205.85 231.62Z"/>
<path d="M205.60 231.82L208.05 236.12L203.15 236.12Z"/>
<path d="M199.40 236.22L201.85 240.52L196.95 240.52Z"/>
<path d="M203.00 236.22L205.45 240.52L200.55 240.52Z"/>
<path d="M207.40 235.32L209.85 239.62L204.95 239.62Z"/>
<path d="M209.20 237.12L211.65 241.42L206.75 241.42Z"/>
<path d="M205.60 238.92L208.05 243.22L203.15 243.22Z"/>
<path d="M205.60 252.32L208.05 256.62L203.15 256.62Z"/>
<path d="M202.10 254.92L204.55 259.22L199.65 259.22Z"/>
<path d="M198.50 258.02L200.95 262.32L196.05 262.32Z"/>
<path d="M209.20 258.02L211.65 262.32L206.75 262.32Z"/>
<path d="M205.60 260.32L208.05 264.62L203.15 264.62Z"/>
<path d="M209.20 274.52L211.65 278.82L206.75 278.82Z"/>
<path d="M205.60 278.62L208.05 282.92L203.15 282.92Z"/>
<line x1="198.50" y1="242.80" x2="212.70" y2="242.80" stroke="#000" stroke-width="1.25"/>
<line x1="57.70" y1="181.40" x2="120.00" y2="181.40" stroke="#000" stroke-width="1.15"/>
<polygon points="88.80,174.60 89.44,176.32 91.27,176.40 89.84,177.54 90.33,179.30 88.80,178.29 87.27,179.30 87.76,177.54 86.33,176.40 88.16,176.32"/>
<line x1="57.70" y1="191.20" x2="98.80" y2="191.20" stroke="#000" stroke-width="1.15"/>
<polygon points="75.40,185.00 76.04,186.72 77.87,186.80 76.44,187.94 76.93,189.70 75.40,188.69 73.87,189.70 74.36,187.94 72.93,186.80 74.76,186.72"/>
<polygon points="80.80,185.00 81.44,186.72 83.27,186.80 81.84,187.94 82.33,189.70 80.80,188.69 79.27,189.70 79.76,187.94 78.33,186.80 80.16,186.72"/>
<line x1="57.70" y1="201.40" x2="77.70" y2="201.40" stroke="#000" stroke-width="1.15"/>
<polygon points="62.30,194.90 62.94,196.62 64.77,196.70 63.34,197.84 63.83,199.60 62.30,198.59 60.77,199.60 61.26,197.84 59.83,196.70 61.66,196.62"/>
<polygon points="67.50,194.90 68.14,196.62 69.97,196.70 68.54,197.84 69.03,199.60 67.50,198.59 65.97,199.60 66.46,197.84 65.03,196.70 66.86,196.62"/>
<polygon points="72.70,194.90 73.34,196.62 75.17,196.70 73.74,197.84 74.23,199.60 72.70,198.59 71.17,199.60 71.66,197.84 70.23,196.70 72.06,196.62"/>
<line x1="144.40" y1="181.20" x2="207.20" y2="181.20" stroke="#000" stroke-width="1.15"/>
<polygon points="173.40,174.20 174.04,175.92 175.87,176.00 174.44,177.14 174.93,178.90 173.40,177.89 171.87,178.90 172.36,177.14 170.93,176.00 172.76,175.92"/>
<polygon points="178.60,174.20 179.24,175.92 181.07,176.00 179.64,177.14 180.13,178.90 178.60,177.89 177.07,178.90 177.56,177.14 176.13,176.00 177.96,175.92"/>
<line x1="144.40" y1="191.60" x2="186.70" y2="191.60" stroke="#000" stroke-width="1.15"/>
<polygon points="162.90,184.50 163.54,186.22 165.37,186.30 163.94,187.44 164.43,189.20 162.90,188.19 161.37,189.20 161.86,187.44 160.43,186.30 162.26,186.22"/>
<polygon points="168.10,184.50 168.74,186.22 170.57,186.30 169.14,187.44 169.63,189.20 168.10,188.19 166.57,189.20 167.06,187.44 165.63,186.30 167.46,186.22"/>
<line x1="145.20" y1="201.60" x2="164.90" y2="201.60" stroke="#000" stroke-width="1.15"/>
<polygon points="149.80,194.80 150.44,196.52 152.27,196.60 150.84,197.74 151.33,199.50 149.80,198.49 148.27,199.50 148.76,197.74 147.33,196.60 149.16,196.52"/>
<polygon points="155.00,194.80 155.64,196.52 157.47,196.60 156.04,197.74 156.53,199.50 155.00,198.49 153.47,199.50 153.96,197.74 152.53,196.60 154.36,196.52"/>
<polygon points="160.20,194.80 160.84,196.52 162.67,196.60 161.24,197.74 161.73,199.50 160.20,198.49 158.67,199.50 159.16,197.74 157.73,196.60 159.56,196.52"/>
<text x="238" y="180.6" font-size="14" font-weight="bold" text-anchor="start" >D</text>
<line x1="268.00" y1="204.03" x2="268.00" y2="317.30" stroke="#000" stroke-width="1.4"/>
<line x1="263.80" y1="204.63" x2="268.00" y2="204.63" stroke="#000" stroke-width="1.3"/>
<text x="262.8" y="207.47" font-size="7.9" font-weight="bold" text-anchor="end" letter-spacing="0" stroke="#000" stroke-width="0.3">1400</text>
<line x1="263.80" y1="220.64" x2="268.00" y2="220.64" stroke="#000" stroke-width="1.3"/>
<text x="262.8" y="223.48" font-size="7.9" font-weight="bold" text-anchor="end" letter-spacing="0" stroke="#000" stroke-width="0.3">1200</text>
<line x1="263.80" y1="236.65" x2="268.00" y2="236.65" stroke="#000" stroke-width="1.3"/>
<text x="262.8" y="239.49" font-size="7.9" font-weight="bold" text-anchor="end" letter-spacing="0" stroke="#000" stroke-width="0.3">1000</text>
<line x1="263.80" y1="252.66" x2="268.00" y2="252.66" stroke="#000" stroke-width="1.3"/>
<text x="262.8" y="255.50" font-size="7.9" font-weight="bold" text-anchor="end" letter-spacing="0" stroke="#000" stroke-width="0.3">800</text>
<line x1="263.80" y1="268.67" x2="268.00" y2="268.67" stroke="#000" stroke-width="1.3"/>
<text x="262.8" y="271.51" font-size="7.9" font-weight="bold" text-anchor="end" letter-spacing="0" stroke="#000" stroke-width="0.3">600</text>
<line x1="263.80" y1="284.68" x2="268.00" y2="284.68" stroke="#000" stroke-width="1.3"/>
<text x="262.8" y="287.52" font-size="7.9" font-weight="bold" text-anchor="end" letter-spacing="0" stroke="#000" stroke-width="0.3">400</text>
<line x1="263.80" y1="300.69" x2="268.00" y2="300.69" stroke="#000" stroke-width="1.3"/>
<text x="262.8" y="303.53" font-size="7.9" font-weight="bold" text-anchor="end" letter-spacing="0" stroke="#000" stroke-width="0.3">200</text>
<line x1="263.80" y1="316.70" x2="268.00" y2="316.70" stroke="#000" stroke-width="1.3"/>
<text x="262.8" y="319.54" font-size="7.9" font-weight="bold" text-anchor="end" letter-spacing="0" stroke="#000" stroke-width="0.3">0</text>
<line x1="267.30" y1="316.70" x2="429.00" y2="316.70" stroke="#000" stroke-width="1.4"/>
<line x1="351.80" y1="201.30" x2="351.80" y2="316.70" stroke="#000" stroke-width="1.4"/>
<text transform="translate(241.3,257.7) rotate(-90)" font-size="11.5" font-weight="bold" text-anchor="middle">CD100 gMFI</text>
<text x="307.3" y="329.2" font-size="11.9" font-weight="normal" text-anchor="middle" >CD8</text>
<text x="392.5" y="329.2" font-size="11.9" font-weight="normal" text-anchor="middle" >CD4</text>
<rect x="276.40" y="217.60" width="4.2" height="4.2"/>
<rect x="275.60" y="225.60" width="4.2" height="4.2"/>
<rect x="279.40" y="225.60" width="4.2" height="4.2"/>
<rect x="273.20" y="236.20" width="4.2" height="4.2"/>
<rect x="277.60" y="235.90" width="4.2" height="4.2"/>
<rect x="280.30" y="237.60" width="4.2" height="4.2"/>
<rect x="269.50" y="238.80" width="4.2" height="4.2"/>
<rect x="280.30" y="241.80" width="4.2" height="4.2"/>
<rect x="271.70" y="242.10" width="4.2" height="4.2"/>
<rect x="274.00" y="245.00" width="4.2" height="4.2"/>
<rect x="279.90" y="244.70" width="4.2" height="4.2"/>
<rect x="276.20" y="247.20" width="4.2" height="4.2"/>
<rect x="279.90" y="251.70" width="4.2" height="4.2"/>
<rect x="269.50" y="253.90" width="4.2" height="4.2"/>
<rect x="276.20" y="256.80" width="4.2" height="4.2"/>
<rect x="276.20" y="274.50" width="4.2" height="4.2"/>
<line x1="270.90" y1="244.20" x2="284.90" y2="244.20" stroke="#000" stroke-width="1.25"/>
<circle cx="298.90" cy="238.30" r="2.3"/>
<circle cx="295.20" cy="246.80" r="2.3"/>
<circle cx="300.40" cy="245.60" r="2.3"/>
<circle cx="302.60" cy="249.30" r="2.3"/>
<circle cx="298.90" cy="250.80" r="2.3"/>
<circle cx="292.30" cy="257.20" r="2.3"/>
<circle cx="295.20" cy="263.10" r="2.3"/>
<circle cx="299.70" cy="262.60" r="2.3"/>
<circle cx="297.40" cy="269.00" r="2.3"/>
<circle cx="301.90" cy="269.00" r="2.3"/>
<line x1="292.30" y1="256.70" x2="305.60" y2="256.70" stroke="#000" stroke-width="1.25"/>
<path d="M319.30 230.85L321.65 233.20L319.30 235.55L316.95 233.20Z"/>
<path d="M319.00 241.25L321.35 243.60L319.00 245.95L316.65 243.60Z"/>
<path d="M316.30 244.25L318.65 246.60L316.30 248.95L313.95 246.60Z"/>
<path d="M321.70 244.25L324.05 246.60L321.70 248.95L319.35 246.60Z"/>
<path d="M312.50 246.95L314.85 249.30L312.50 251.65L310.15 249.30Z"/>
<path d="M319.30 246.35L321.65 248.70L319.30 251.05L316.95 248.70Z"/>
<path d="M322.80 246.05L325.15 248.40L322.80 250.75L320.45 248.40Z"/>
<path d="M315.70 255.65L318.05 258.00L315.70 260.35L313.35 258.00Z"/>
<path d="M319.30 256.15L321.65 258.50L319.30 260.85L316.95 258.50Z"/>
<path d="M322.80 255.65L325.15 258.00L322.80 260.35L320.45 258.00Z"/>
<path d="M319.30 257.95L321.65 260.30L319.30 262.65L316.95 260.30Z"/>
<path d="M312.50 263.25L314.85 265.60L312.50 267.95L310.15 265.60Z"/>
<path d="M319.30 267.55L321.65 269.90L319.30 272.25L316.95 269.90Z"/>
<path d="M320.60 269.75L322.95 272.10L320.60 274.45L318.25 272.10Z"/>
<path d="M315.70 273.85L318.05 276.20L315.70 278.55L313.35 276.20Z"/>
<path d="M319.30 274.55L321.65 276.90L319.30 279.25L316.95 276.90Z"/>
<path d="M322.80 274.55L325.15 276.90L322.80 279.25L320.45 276.90Z"/>
<line x1="311.90" y1="257.40" x2="326.00" y2="257.40" stroke="#000" stroke-width="1.25"/>
<path d="M343.40 234.22L345.85 238.52L340.95 238.52Z"/>
<path d="M339.90 237.12L342.35 241.42L337.45 241.42Z"/>
<path d="M336.30 239.62L338.75 243.92L333.85 243.92Z"/>
<path d="M332.50 244.02L334.95 248.32L330.05 248.32Z"/>
<path d="M343.40 243.22L345.85 247.52L340.95 247.52Z"/>
<path d="M339.90 246.12L342.35 250.42L337.45 250.42Z"/>
<path d="M340.10 248.92L342.55 253.22L337.65 253.22Z"/>
<path d="M337.40 251.92L339.85 256.22L334.95 256.22Z"/>
<path d="M341.80 251.62L344.25 255.92L339.35 255.92Z"/>
<path d="M339.00 253.22L341.45 257.52L336.55 257.52Z"/>
<path d="M342.80 253.22L345.25 257.52L340.35 257.52Z"/>
<path d="M343.40 259.72L345.85 264.02L340.95 264.02Z"/>
<path d="M332.50 263.82L334.95 268.12L330.05 268.12Z"/>
<path d="M339.90 263.22L342.35 267.52L337.45 267.52Z"/>
<path d="M336.90 267.32L339.35 271.62L334.45 271.62Z"/>
<path d="M341.20 266.22L343.65 270.52L338.75 270.52Z"/>
<path d="M339.00 270.52L341.45 274.82L336.55 274.82Z"/>
<path d="M342.80 270.52L345.25 274.82L340.35 274.82Z"/>
<line x1="332.50" y1="256.90" x2="346.60" y2="256.90" stroke="#000" stroke-width="1.25"/>
<rect x="361.40" y="208.00" width="4.2" height="4.2"/>
<rect x="354.50" y="214.40" width="4.2" height="4.2"/>
<rect x="361.40" y="220.50" width="4.2" height="4.2"/>
<rect x="357.70" y="224.40" width="4.2" height="4.2"/>
<rect x="364.90" y="226.90" width="4.2" height="4.2"/>
<rect x="361.40" y="230.30" width="4.2" height="4.2"/>
<rect x="364.90" y="233.50" width="4.2" height="4.2"/>
<rect x="354.20" y="236.30" width="4.2" height="4.2"/>
<rect x="357.70" y="235.60" width="4.2" height="4.2"/>
<rect x="361.40" y="236.70" width="4.2" height="4.2"/>
<rect x="357.70" y="239.10" width="4.2" height="4.2"/>
<rect x="361.40" y="238.40" width="4.2" height="4.2"/>
<rect x="364.90" y="239.50" width="4.2" height="4.2"/>
<rect x="361.40" y="244.70" width="4.2" height="4.2"/>
<rect x="361.40" y="252.10" width="4.2" height="4.2"/>
<rect x="361.40" y="271.90" width="4.2" height="4.2"/>
<line x1="354.90" y1="237.00" x2="370.70" y2="237.00" stroke="#000" stroke-width="1.25"/>
<circle cx="377.20" cy="244.40" r="2.3"/>
<circle cx="384.00" cy="245.80" r="2.3"/>
<circle cx="380.40" cy="251.00" r="2.3"/>
<circle cx="387.00" cy="253.10" r="2.3"/>
<circle cx="384.00" cy="255.90" r="2.3"/>
<circle cx="380.40" cy="258.70" r="2.3"/>
<circle cx="387.00" cy="262.80" r="2.3"/>
<circle cx="377.20" cy="264.20" r="2.3"/>
<circle cx="384.00" cy="264.90" r="2.3"/>
<circle cx="387.00" cy="269.80" r="2.3"/>
<circle cx="384.00" cy="271.90" r="2.3"/>
<line x1="378.60" y1="258.00" x2="390.80" y2="258.00" stroke="#000" stroke-width="1.25"/>
<path d="M404.30 217.35L406.65 219.70L404.30 222.05L401.95 219.70Z"/>
<path d="M401.20 233.05L403.55 235.40L401.20 237.75L398.85 235.40Z"/>
<path d="M406.10 231.85L408.45 234.20L406.10 236.55L403.75 234.20Z"/>
<path d="M403.00 234.35L405.35 236.70L403.00 239.05L400.65 236.70Z"/>
<path d="M408.00 235.55L410.35 237.90L408.00 240.25L405.65 237.90Z"/>
<path d="M404.90 236.85L407.25 239.20L404.90 241.55L402.55 239.20Z"/>
<path d="M397.40 240.55L399.75 242.90L397.40 245.25L395.05 242.90Z"/>
<path d="M408.00 240.15L410.35 242.50L408.00 244.85L405.65 242.50Z"/>
<path d="M404.30 243.65L406.65 246.00L404.30 248.35L401.95 246.00Z"/>
<path d="M401.20 247.15L403.55 249.50L401.20 251.85L398.85 249.50Z"/>
<path d="M408.00 247.95L410.35 250.30L408.00 252.65L405.65 250.30Z"/>
<path d="M404.30 250.45L406.65 252.80L404.30 255.15L401.95 252.80Z"/>
<path d="M397.40 257.85L399.75 260.20L397.40 262.55L395.05 260.20Z"/>
<path d="M408.00 256.25L410.35 258.60L408.00 260.95L405.65 258.60Z"/>
<path d="M404.30 260.75L406.65 263.10L404.30 265.45L401.95 263.10Z"/>
<path d="M401.20 269.05L403.55 271.40L401.20 273.75L398.85 271.40Z"/>
<path d="M404.30 268.45L406.65 270.80L404.30 273.15L401.95 270.80Z"/>
<path d="M406.10 270.35L408.45 272.70L406.10 275.05L403.75 272.70Z"/>
<path d="M408.00 269.65L410.35 272.00L408.00 274.35L405.65 272.00Z"/>
<path d="M404.30 272.15L406.65 274.50L404.30 276.85L401.95 274.50Z"/>
<line x1="397.40" y1="251.20" x2="411.70" y2="251.20" stroke="#000" stroke-width="1.25"/>
<path d="M417.90 225.42L420.35 229.72L415.45 229.72Z"/>
<path d="M424.70 228.52L427.15 232.82L422.25 232.82Z"/>
<path d="M426.60 232.22L429.05 236.52L424.15 236.52Z"/>
<path d="M421.60 235.32L424.05 239.62L419.15 239.62Z"/>
<path d="M424.70 239.02L427.15 243.32L422.25 243.32Z"/>
<path d="M428.50 238.42L430.95 242.72L426.05 242.72Z"/>
<path d="M421.60 242.82L424.05 247.12L419.15 247.12Z"/>
<path d="M427.80 244.02L430.25 248.32L425.35 248.32Z"/>
<path d="M417.90 246.92L420.35 251.22L415.45 251.22Z"/>
<path d="M424.70 249.02L427.15 253.32L422.25 253.32Z"/>
<path d="M427.20 250.82L429.65 255.12L424.75 255.12Z"/>
<path d="M421.60 251.42L424.05 255.72L419.15 255.72Z"/>
<path d="M424.70 255.82L427.15 260.12L422.25 260.12Z"/>
<path d="M421.60 258.32L424.05 262.62L419.15 262.62Z"/>
<path d="M427.80 260.12L430.25 264.42L425.35 264.42Z"/>
<path d="M417.90 263.22L420.35 267.52L415.45 267.52Z"/>
<path d="M424.70 263.22L427.15 267.52L422.25 267.52Z"/>
<path d="M428.50 265.72L430.95 270.02L426.05 270.02Z"/>
<path d="M424.70 271.72L427.15 276.02L422.25 276.02Z"/>
<line x1="416.00" y1="250.90" x2="432.20" y2="250.90" stroke="#000" stroke-width="1.25"/>
<line x1="279.20" y1="189.60" x2="338.90" y2="189.60" stroke="#000" stroke-width="1.1"/>
<polygon points="308.70,183.00 309.34,184.72 311.17,184.80 309.74,185.94 310.23,187.70 308.70,186.69 307.17,187.70 307.66,185.94 306.23,184.80 308.06,184.72"/>
<line x1="279.20" y1="199.80" x2="319.70" y2="199.80" stroke="#000" stroke-width="1.1"/>
<polygon points="298.80,192.70 299.44,194.42 301.27,194.50 299.84,195.64 300.33,197.40 298.80,196.39 297.27,197.40 297.76,195.64 296.33,194.50 298.16,194.42"/>
<line x1="362.50" y1="199.90" x2="383.20" y2="199.90" stroke="#000" stroke-width="1.1"/>
<polygon points="369.70,193.10 370.34,194.82 372.17,194.90 370.74,196.04 371.23,197.80 369.70,196.79 368.17,197.80 368.66,196.04 367.23,194.90 369.06,194.82"/>
<polygon points="375.10,193.10 375.74,194.82 377.57,194.90 376.14,196.04 376.63,197.80 375.10,196.79 373.57,197.80 374.06,196.04 372.63,194.90 374.46,194.82"/>
<text x="20.8" y="346.9" font-size="14" font-weight="bold" text-anchor="start" >E</text>
<line x1="49.50" y1="355.60" x2="49.50" y2="476.20" stroke="#000" stroke-width="1.4"/>
<line x1="45.30" y1="356.20" x2="49.50" y2="356.20" stroke="#000" stroke-width="1.3"/>
<text x="44.1" y="359.19" font-size="8.3" font-weight="bold" text-anchor="end" letter-spacing="0" stroke="#000" stroke-width="0.3">2500</text>
<line x1="45.30" y1="380.08" x2="49.50" y2="380.08" stroke="#000" stroke-width="1.3"/>
<text x="44.1" y="383.07" font-size="8.3" font-weight="bold" text-anchor="end" letter-spacing="0" stroke="#000" stroke-width="0.3">2000</text>
<line x1="45.30" y1="403.96" x2="49.50" y2="403.96" stroke="#000" stroke-width="1.3"/>
<text x="44.1" y="406.95" font-size="8.3" font-weight="bold" text-anchor="end" letter-spacing="0" stroke="#000" stroke-width="0.3">1500</text>
<line x1="45.30" y1="427.84" x2="49.50" y2="427.84" stroke="#000" stroke-width="1.3"/>
<text x="44.1" y="430.83" font-size="8.3" font-weight="bold" text-anchor="end" letter-spacing="0" stroke="#000" stroke-width="0.3">1000</text>
<line x1="45.30" y1="451.72" x2="49.50" y2="451.72" stroke="#000" stroke-width="1.3"/>
<text x="44.1" y="454.71" font-size="8.3" font-weight="bold" text-anchor="end" letter-spacing="0" stroke="#000" stroke-width="0.3">500</text>
<line x1="45.30" y1="475.60" x2="49.50" y2="475.60" stroke="#000" stroke-width="1.3"/>
<text x="44.1" y="478.59" font-size="8.3" font-weight="bold" text-anchor="end" letter-spacing="0" stroke="#000" stroke-width="0.3">0</text>
<line x1="48.80" y1="475.60" x2="230.00" y2="475.60" stroke="#000" stroke-width="1.4"/>
<text transform="translate(23.3,415.1) rotate(-90)" font-size="11.5" font-weight="bold" text-anchor="middle">CD100+ T Cells/mm<tspan font-size="7.8" dy="-4.3">3</tspan></text>
<text x="80.0" y="489.2" font-size="12" font-weight="normal" text-anchor="middle" letter-spacing="-0.3">EARLY</text>
<text x="140.3" y="489.2" font-size="12" font-weight="normal" text-anchor="middle" letter-spacing="-0.3">LATE</text>
<text x="199.2" y="489.2" font-size="12" font-weight="normal" text-anchor="middle" letter-spacing="-0.3">TREATMENT</text>
<polyline points="79.50,457.00 139.30,377.60 199.30,398.80" fill="none" stroke="#000" stroke-width="1.4"/>
<polyline points="79.50,463.00 139.30,405.30 199.30,436.30" fill="none" stroke="#000" stroke-width="1.4"/>
<polyline points="79.50,427.50 139.30,446.30 199.30,470.00" fill="none" stroke="#000" stroke-width="1.4"/>
<polyline points="79.50,442.00 139.30,449.50 199.30,453.80" fill="none" stroke="#000" stroke-width="1.4"/>
<polyline points="79.50,456.00 139.30,443.80 199.30,464.50" fill="none" stroke="#000" stroke-width="1.4"/>
<polyline points="79.50,458.00 139.30,452.00 199.30,436.90" fill="none" stroke="#000" stroke-width="1.4"/>
<polyline points="79.50,462.00 139.30,467.80 199.30,460.00" fill="none" stroke="#000" stroke-width="1.4"/>
<polyline points="79.50,459.50 139.30,446.00 199.30,452.50" fill="none" stroke="#000" stroke-width="1.4"/>
<circle cx="79.50" cy="457.00" r="2.5"/>
<circle cx="139.30" cy="377.60" r="2.5"/>
<circle cx="199.30" cy="398.80" r="2.5"/>
<circle cx="79.50" cy="463.00" r="2.5"/>
<circle cx="139.30" cy="405.30" r="2.5"/>
<circle cx="199.30" cy="436.30" r="2.5"/>
<circle cx="79.50" cy="427.50" r="2.5"/>
<circle cx="139.30" cy="446.30" r="2.5"/>
<circle cx="199.30" cy="470.00" r="2.5"/>
<circle cx="79.50" cy="442.00" r="2.5"/>
<circle cx="139.30" cy="449.50" r="2.5"/>
<circle cx="199.30" cy="453.80" r="2.5"/>
<circle cx="79.50" cy="456.00" r="2.5"/>
<circle cx="139.30" cy="443.80" r="2.5"/>
<circle cx="199.30" cy="464.50" r="2.5"/>
<circle cx="79.50" cy="458.00" r="2.5"/>
<circle cx="139.30" cy="452.00" r="2.5"/>
<circle cx="199.30" cy="436.90" r="2.5"/>
<circle cx="79.50" cy="462.00" r="2.5"/>
<circle cx="139.30" cy="467.80" r="2.5"/>
<circle cx="199.30" cy="460.00" r="2.5"/>
<circle cx="79.50" cy="459.50" r="2.5"/>
<circle cx="139.30" cy="446.00" r="2.5"/>
<circle cx="199.30" cy="452.50" r="2.5"/>
<circle cx="79.5" cy="464.6" r="2.5"/>
<text x="237.4" y="346.5" font-size="14" font-weight="bold" text-anchor="start" >F</text>
<line x1="268.50" y1="351.80" x2="268.50" y2="475.10" stroke="#000" stroke-width="1.4"/>
<line x1="264.30" y1="352.40" x2="268.50" y2="352.40" stroke="#000" stroke-width="1.3"/>
<text x="263.4" y="355.57" font-size="8.8" font-weight="bold" text-anchor="end" letter-spacing="0" stroke="#000" stroke-width="0.3">100</text>
<line x1="264.30" y1="376.82" x2="268.50" y2="376.82" stroke="#000" stroke-width="1.3"/>
<text x="263.4" y="379.99" font-size="8.8" font-weight="bold" text-anchor="end" letter-spacing="0" stroke="#000" stroke-width="0.3">80</text>
<line x1="264.30" y1="401.24" x2="268.50" y2="401.24" stroke="#000" stroke-width="1.3"/>
<text x="263.4" y="404.41" font-size="8.8" font-weight="bold" text-anchor="end" letter-spacing="0" stroke="#000" stroke-width="0.3">60</text>
<line x1="264.30" y1="425.66" x2="268.50" y2="425.66" stroke="#000" stroke-width="1.3"/>
<text x="263.4" y="428.83" font-size="8.8" font-weight="bold" text-anchor="end" letter-spacing="0" stroke="#000" stroke-width="0.3">40</text>
<line x1="264.30" y1="450.08" x2="268.50" y2="450.08" stroke="#000" stroke-width="1.3"/>
<text x="263.4" y="453.25" font-size="8.8" font-weight="bold" text-anchor="end" letter-spacing="0" stroke="#000" stroke-width="0.3">20</text>
<line x1="264.30" y1="474.50" x2="268.50" y2="474.50" stroke="#000" stroke-width="1.3"/>
<text x="263.4" y="477.67" font-size="8.8" font-weight="bold" text-anchor="end" letter-spacing="0" stroke="#000" stroke-width="0.3">0</text>
<line x1="267.80" y1="474.50" x2="453.40" y2="474.50" stroke="#000" stroke-width="1.4"/>
<text transform="translate(248.9,414.2) rotate(-90)" font-size="12.9" font-weight="bold" text-anchor="middle">% CD100+</text>
<text x="299.3" y="489.0" font-size="12" font-weight="normal" text-anchor="middle" letter-spacing="-0.3">EARLY</text>
<text x="360.6" y="489.0" font-size="12" font-weight="normal" text-anchor="middle" letter-spacing="-0.3">LATE</text>
<text x="422.3" y="489.0" font-size="12" font-weight="normal" text-anchor="middle" letter-spacing="-0.3">TREATMENT</text>
<polyline points="299.40,382.70 360.60,407.70 422.00,408.40" fill="none" stroke="#000" stroke-width="1.4"/>
<polyline points="299.40,411.00 360.60,430.50 422.00,427.20" fill="none" stroke="#000" stroke-width="1.4"/>
<polyline points="299.40,416.30 360.60,441.90 422.00,384.10" fill="none" stroke="#000" stroke-width="1.4"/>
<polyline points="299.40,422.10 360.60,385.90 422.00,393.30" fill="none" stroke="#000" stroke-width="1.4"/>
<polyline points="299.40,425.10 360.60,413.30 422.00,419.80" fill="none" stroke="#000" stroke-width="1.4"/>
<polyline points="299.40,431.60 360.60,428.60 422.00,401.50" fill="none" stroke="#000" stroke-width="1.4"/>
<polyline points="299.40,438.60 360.60,373.50 422.00,391.50" fill="none" stroke="#000" stroke-width="1.4"/>
<polyline points="299.40,455.10 360.60,389.30 422.00,446.70" fill="none" stroke="#000" stroke-width="1.4"/>
<circle cx="299.40" cy="382.70" r="2.5"/>
<circle cx="360.60" cy="407.70" r="2.5"/>
<circle cx="422.00" cy="408.40" r="2.5"/>
<circle cx="299.40" cy="411.00" r="2.5"/>
<circle cx="360.60" cy="430.50" r="2.5"/>
<circle cx="422.00" cy="427.20" r="2.5"/>
<circle cx="299.40" cy="416.30" r="2.5"/>
<circle cx="360.60" cy="441.90" r="2.5"/>
<circle cx="422.00" cy="384.10" r="2.5"/>
<circle cx="299.40" cy="422.10" r="2.5"/>
<circle cx="360.60" cy="385.90" r="2.5"/>
<circle cx="422.00" cy="393.30" r="2.5"/>
<circle cx="299.40" cy="425.10" r="2.5"/>
<circle cx="360.60" cy="413.30" r="2.5"/>
<circle cx="422.00" cy="419.80" r="2.5"/>
<circle cx="299.40" cy="431.60" r="2.5"/>
<circle cx="360.60" cy="428.60" r="2.5"/>
<circle cx="422.00" cy="401.50" r="2.5"/>
<circle cx="299.40" cy="438.60" r="2.5"/>
<circle cx="360.60" cy="373.50" r="2.5"/>
<circle cx="422.00" cy="391.50" r="2.5"/>
<circle cx="299.40" cy="455.10" r="2.5"/>
<circle cx="360.60" cy="389.30" r="2.5"/>
<circle cx="422.00" cy="446.70" r="2.5"/>
<text x="22.0" y="498.4" font-size="14" font-weight="bold" text-anchor="start" >G</text>
<line x1="48.40" y1="508.52" x2="48.40" y2="629.00" stroke="#000" stroke-width="1.4"/>
<line x1="44.20" y1="509.12" x2="48.40" y2="509.12" stroke="#000" stroke-width="1.3"/>
<text x="43.0" y="512.14" font-size="8.4" font-weight="bold" text-anchor="end" letter-spacing="0" stroke="#000" stroke-width="0.3">1200</text>
<line x1="44.20" y1="529.00" x2="48.40" y2="529.00" stroke="#000" stroke-width="1.3"/>
<text x="43.0" y="532.02" font-size="8.4" font-weight="bold" text-anchor="end" letter-spacing="0" stroke="#000" stroke-width="0.3">1000</text>
<line x1="44.20" y1="548.88" x2="48.40" y2="548.88" stroke="#000" stroke-width="1.3"/>
<text x="43.0" y="551.90" font-size="8.4" font-weight="bold" text-anchor="end" letter-spacing="0" stroke="#000" stroke-width="0.3">800</text>
<line x1="44.20" y1="568.76" x2="48.40" y2="568.76" stroke="#000" stroke-width="1.3"/>
<text x="43.0" y="571.78" font-size="8.4" font-weight="bold" text-anchor="end" letter-spacing="0" stroke="#000" stroke-width="0.3">600</text>
<line x1="44.20" y1="588.64" x2="48.40" y2="588.64" stroke="#000" stroke-width="1.3"/>
<text x="43.0" y="591.66" font-size="8.4" font-weight="bold" text-anchor="end" letter-spacing="0" stroke="#000" stroke-width="0.3">400</text>
<line x1="44.20" y1="608.52" x2="48.40" y2="608.52" stroke="#000" stroke-width="1.3"/>
<text x="43.0" y="611.54" font-size="8.4" font-weight="bold" text-anchor="end" letter-spacing="0" stroke="#000" stroke-width="0.3">200</text>
<line x1="44.20" y1="628.40" x2="48.40" y2="628.40" stroke="#000" stroke-width="1.3"/>
<text x="43.0" y="631.42" font-size="8.4" font-weight="bold" text-anchor="end" letter-spacing="0" stroke="#000" stroke-width="0.3">0</text>
<line x1="47.70" y1="628.40" x2="229.20" y2="628.40" stroke="#000" stroke-width="1.4"/>
<text transform="translate(23.0,560.3) rotate(-90)" font-size="13.6" font-weight="bold" text-anchor="middle">CD100 gMFI</text>
<text x="78.8" y="641.9" font-size="12" font-weight="normal" text-anchor="middle" letter-spacing="-0.3">EARLY</text>
<text x="138.8" y="641.9" font-size="12" font-weight="normal" text-anchor="middle" letter-spacing="-0.3">LATE</text>
<text x="198.5" y="641.9" font-size="12" font-weight="normal" text-anchor="middle" letter-spacing="-0.3">TREATMENT</text>
<polyline points="79.40,549.50 138.90,567.50 198.70,564.80" fill="none" stroke="#000" stroke-width="1.4"/>
<polyline points="79.40,552.20 138.90,562.10 198.70,580.20" fill="none" stroke="#000" stroke-width="1.4"/>
<polyline points="79.40,555.90 138.90,579.60 198.70,519.80" fill="none" stroke="#000" stroke-width="1.4"/>
<polyline points="79.40,566.20 138.90,541.90 198.70,561.30" fill="none" stroke="#000" stroke-width="1.4"/>
<polyline points="79.40,568.30 138.90,564.80 198.70,546.80" fill="none" stroke="#000" stroke-width="1.4"/>
<polyline points="79.40,574.20 138.90,559.40 198.70,555.40" fill="none" stroke="#000" stroke-width="1.4"/>
<polyline points="79.40,568.30 138.90,566.50 198.70,567.50" fill="none" stroke="#000" stroke-width="1.4"/>
<polyline points="79.40,566.20 138.90,562.10 198.70,558.60" fill="none" stroke="#000" stroke-width="1.4"/>
<circle cx="79.40" cy="549.50" r="2.5"/>
<circle cx="138.90" cy="567.50" r="2.5"/>
<circle cx="198.70" cy="564.80" r="2.5"/>
<circle cx="79.40" cy="552.20" r="2.5"/>
<circle cx="138.90" cy="562.10" r="2.5"/>
<circle cx="198.70" cy="580.20" r="2.5"/>
<circle cx="79.40" cy="555.90" r="2.5"/>
<circle cx="138.90" cy="579.60" r="2.5"/>
<circle cx="198.70" cy="519.80" r="2.5"/>
<circle cx="79.40" cy="566.20" r="2.5"/>
<circle cx="138.90" cy="541.90" r="2.5"/>
<circle cx="198.70" cy="561.30" r="2.5"/>
<circle cx="79.40" cy="568.30" r="2.5"/>
<circle cx="138.90" cy="564.80" r="2.5"/>
<circle cx="198.70" cy="546.80" r="2.5"/>
<circle cx="79.40" cy="574.20" r="2.5"/>
<circle cx="138.90" cy="559.40" r="2.5"/>
<circle cx="198.70" cy="555.40" r="2.5"/>
<circle cx="79.40" cy="568.30" r="2.5"/>
<circle cx="138.90" cy="566.50" r="2.5"/>
<circle cx="198.70" cy="567.50" r="2.5"/>
<circle cx="79.40" cy="566.20" r="2.5"/>
<circle cx="138.90" cy="562.10" r="2.5"/>
<circle cx="198.70" cy="558.60" r="2.5"/>
</svg>
</body></html>
